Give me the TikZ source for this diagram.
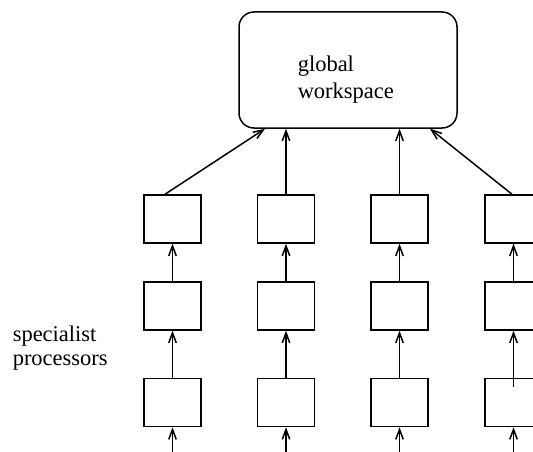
\documentclass[tikz,border=0pt]{standalone}
\usepackage{fontspec}
\setmainfont{Liberation Serif}
\usetikzlibrary{arrows.meta}
\begin{document}
\begin{tikzpicture}[x=1pt,y=-1pt,
  line width=1.5pt,
  tip/.style={-{Straight Barb[length=10pt,width=7.5pt,line width=1.5pt]}},
  proc/.style={draw,rectangle,minimum width=57pt,minimum height=48pt,inner sep=0pt},
  lbl/.style={align=left,inner sep=0pt}]
\useasboundingbox (0,0) rectangle (533,452);
\clip (0,0) rectangle (533,452);

% global workspace
\node[draw,rectangle,rounded corners=15pt,minimum width=218pt,minimum height=116pt,inner sep=0pt]
  (gw) at (348,70) {};
\node[lbl,font=\fontsize{22.5}{28}\selectfont,anchor=base west] (gwtext) at (297,99) {global\\workspace};

% specialist processors: three rows, four columns
\foreach \c/\x in {1/172.5,2/286,3/399.5,4/513.5}{
  \node[proc] (p\c a) at (\x,219) {};
  \node[proc] (p\c b) at (\x,306) {};
  \node[proc] (p\c c) at (\x,402.5) {};
  \coordinate (in\c) at (\x,452);
}

% inputs from below
\foreach \c in {1,2,3,4}{
  \draw[tip] (in\c) -- (p\c c.south);
  \draw[tip] (p\c b.north) -- (p\c a.south);
}
\foreach \c in {1,2,3}{
  \draw[tip] (p\c c.north) -- (p\c b.south);
}
\draw[tip] ([yshift=-9pt]p4c.north) -- (p4b.south);

% connections into the global workspace
\draw[tip] ([xshift=-7.5pt]p1a.north) -- (gw.south west -| 265,0);
\draw[tip] (p2a.north) -- (p2a.north |- gw.south);
\draw[tip] (p3a.north) -- (p3a.north |- gw.south);
\draw[tip] ([xshift=-1.5pt]p4a.north) -- (gw.south west -| 430,0);

\node[lbl,font=\fontsize{22.5}{24}\selectfont,anchor=base west] (spec) at (12,365) {specialist\\processors};
\end{tikzpicture}
\end{document}
